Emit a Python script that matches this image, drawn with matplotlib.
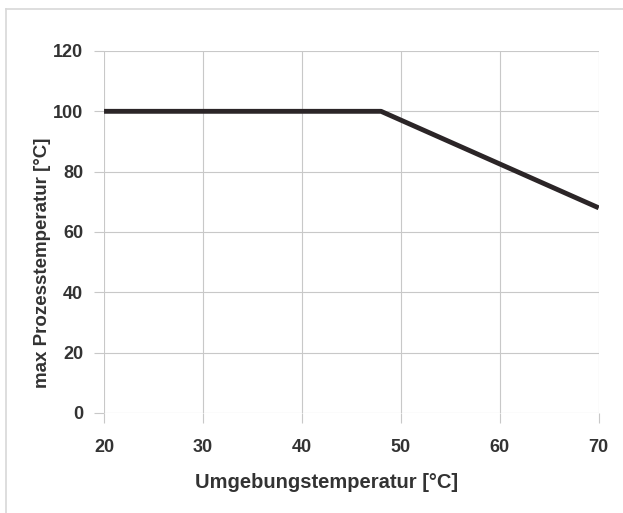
import matplotlib
matplotlib.use("Agg")
from matplotlib import pyplot as plt
from matplotlib.lines import Line2D

# Umgebungstemperatur vs. max Prozesstemperatur
umgebung = [20, 48, 70]
prozess = [100, 100, 68]

x_ticks = [20, 30, 40, 50, 60, 70]
y_ticks = [0, 20, 40, 60, 80, 100, 120]

plt.rcParams['font.family'] = ['Liberation Sans Narrow', 'Liberation Sans', 'DejaVu Sans']

fig = plt.figure(figsize=(6.23, 5.13), dpi=100)
ax = fig.add_axes([0.167, 0.195, 0.794, 0.7056])

grau = '#c8c8c8'
ax.plot(umgebung, prozess, color='#2b2527', linewidth=3.5, solid_capstyle='butt', zorder=3)

ax.set_xlim(20, 70)
ax.set_ylim(0, 120)
ax.set_xticks(x_ticks)
ax.set_yticks(y_ticks)
ax.grid(True, color=grau, linewidth=0.8)
for s in ax.spines.values():
    s.set_visible(False)
ax.tick_params(axis='both', length=7, width=0.8, color=grau, labelsize=13,
               labelcolor='#333333')
for lbl in ax.get_xticklabels() + ax.get_yticklabels():
    lbl.set_fontweight('bold')
ax.tick_params(axis='x', pad=12)
ax.tick_params(axis='y', pad=8)

ax.set_xlabel('Umgebungstemperatur [°C]', fontsize=14.5, fontweight='bold', color='#333333')
ax.set_ylabel('max Prozesstemperatur [°C]', fontsize=13.5, fontweight='bold', color='#333333')
ax.xaxis.set_label_coords(0.45, -0.165)
ax.yaxis.set_label_coords(-0.108, 0.414)

# heller Rahmen oben und links
fig.add_artist(Line2D([6/623, 1], [1 - 9/513, 1 - 9/513], color='#d8d8d8', linewidth=1.2))
fig.add_artist(Line2D([6/623, 6/623], [0, 1 - 9/513], color='#d8d8d8', linewidth=1.2))

fig.savefig('out.png', dpi=100)
